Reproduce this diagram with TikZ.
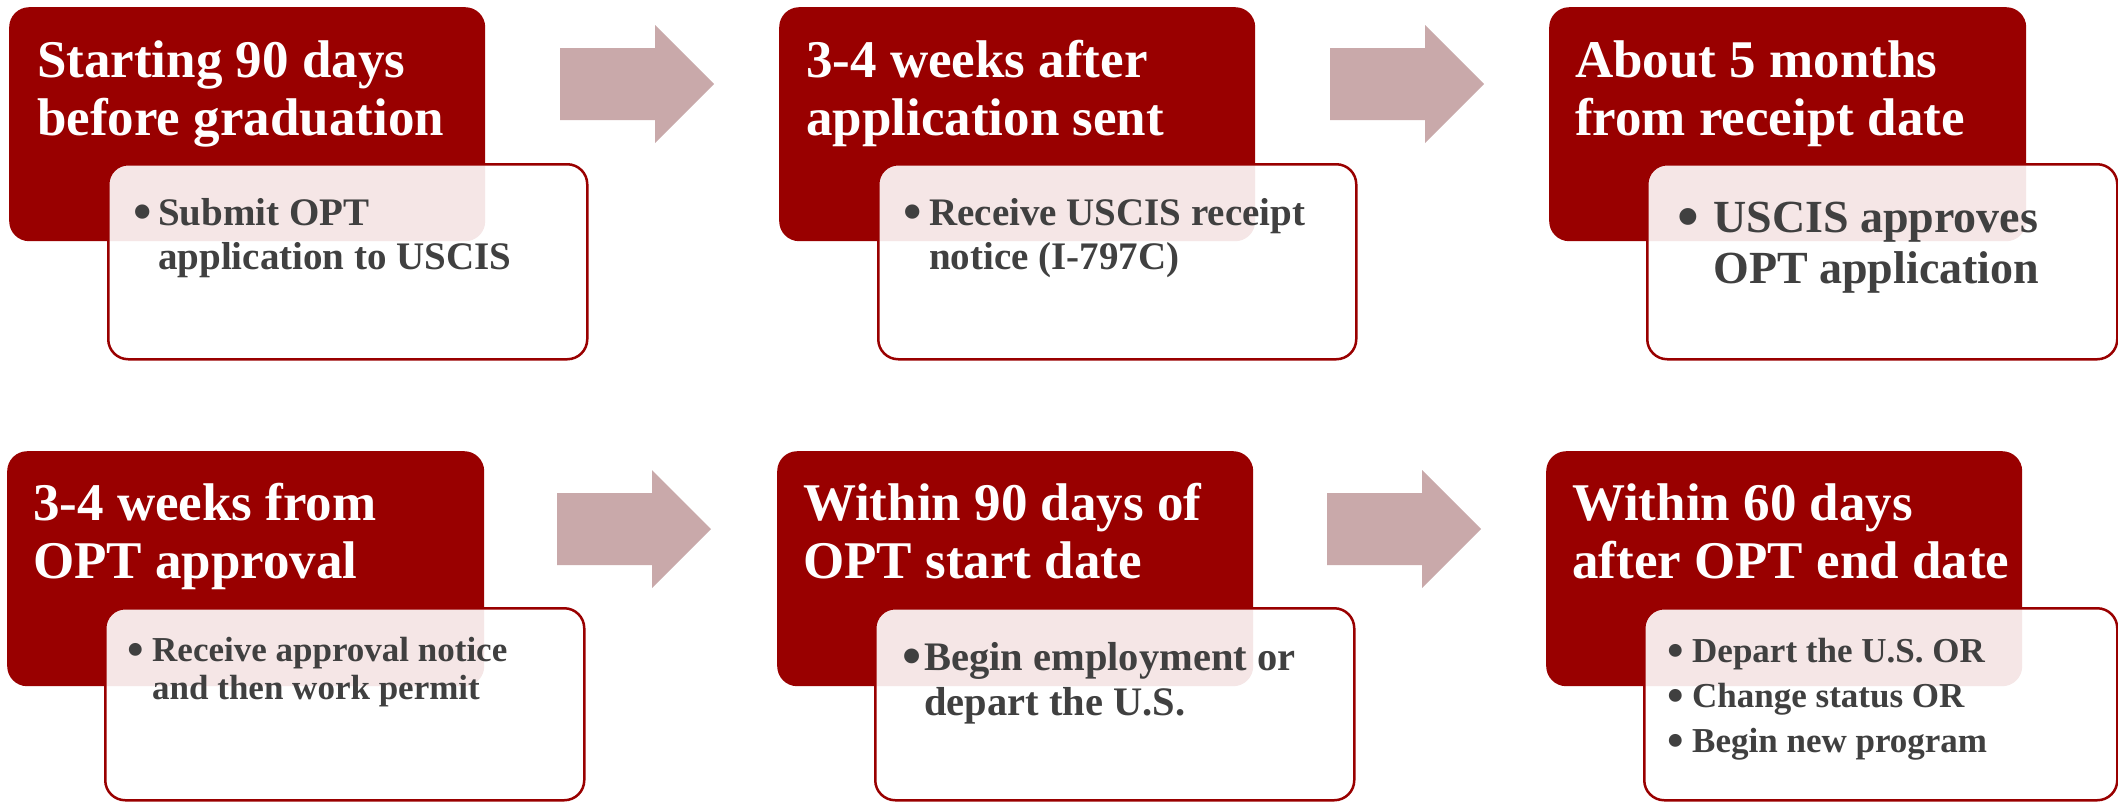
\documentclass[tikz,border=0pt]{standalone}
\usepackage{fontspec}
\setmainfont{Liberation Serif}
\definecolor{oxred}{RGB}{153,0,0}
\definecolor{arrowpink}{RGB}{201,169,170}
\definecolor{bodygray}{RGB}{64,64,64}
\newcommand{\bulmark}[1]{\llap{\raisebox{-0.12em}{\scalebox{1.35}{•}}\hspace{#1}}}
\begin{document}
\begin{tikzpicture}[x=1pt,y=-1pt,
  darkbox/.style={fill=oxred, rounded corners=20pt, inner sep=0pt, anchor=north west},
  lightbox/.style={fill=white, fill opacity=0.9, draw=oxred, line width=2.5pt, rounded corners=20pt, inner sep=0pt, anchor=north west},
  arrowfill/.style={fill=arrowpink},
  ttl/.style={text=white, inner sep=0pt, anchor=base west, font=\fontsize{53}{58}\selectfont\bfseries},
  body/.style={text=bodygray, inner sep=0pt, anchor=base west},
  bA/.style={body, font=\fontsize{39}{44}\selectfont\bfseries},
  bB/.style={body, font=\fontsize{46}{51}\selectfont\bfseries},
  bC/.style={body, font=\fontsize{35}{40}\selectfont\bfseries},
  bD/.style={body, font=\fontsize{40.5}{45}\selectfont\bfseries}
]
\useasboundingbox (0,0) rectangle (2118,801);

% ---------- boxes ----------
\node[darkbox, minimum width=476pt, minimum height=234pt] (d1) at (9,7) {};
\node[lightbox, minimum width=479pt, minimum height=195pt] (w1) at (107,163) {};
\node[darkbox, minimum width=476pt, minimum height=234pt] (d2) at (779,7) {};
\node[lightbox, minimum width=478pt, minimum height=195pt] (w2) at (877,163) {};
\node[darkbox, minimum width=477pt, minimum height=234pt] (d3) at (1549,7) {};
\node[lightbox, minimum width=470pt, minimum height=195pt] (w3) at (1646,163) {};

\node[darkbox, minimum width=477pt, minimum height=235pt] (d4) at (7,451) {};
\node[lightbox, minimum width=479pt, minimum height=192pt] (w4) at (104,607) {};
\node[darkbox, minimum width=476pt, minimum height=235pt] (d5) at (777,451) {};
\node[lightbox, minimum width=479pt, minimum height=192pt] (w5) at (874,607) {};
\node[darkbox, minimum width=476pt, minimum height=235pt] (d6) at (1546,451) {};
\node[lightbox, minimum width=473pt, minimum height=192pt] (w6) at (1643,607) {};

% ---------- block arrows ----------
\coordinate (a1) at (560,84);
\coordinate (a2) at (1330,84);
\coordinate (a3) at (557,529);
\coordinate (a4) at (1327,529);
\foreach \a in {a1,a2,a3,a4}{
  \fill[arrowfill] (\a) ++(0,-36) -- ++(95,0) -- ++(0,-23) -- ++(59,59) -- ++(-59,59) -- ++(0,-23) -- ++(-95,0) -- cycle;
}

% ---------- titles ----------
\node[ttl] (t1a) at (37,77) {Starting 90 days};
\node[ttl] (t1b) at (37,135) {before graduation};
\node[ttl] (t2a) at (806,77) {3-4 weeks after};
\node[ttl] (t2b) at (806,135) {application sent};
\node[ttl] (t3a) at (1575,77) {About 5 months};
\node[ttl] (t3b) at (1575,135) {from receipt date};
\node[ttl] (t4a) at (33,520) {3-4 weeks from};
\node[ttl] (t4b) at (33,578) {OPT approval};
\node[ttl] (t5a) at (803,520) {Within 90 days of};
\node[ttl] (t5b) at (803,578) {OPT start date};
\node[ttl] (t6a) at (1572,520) {Within 60 days};
\node[ttl] (t6b) at (1572,578) {after OPT end date};

% ---------- bodies ----------
\node[bA] (b1a) at (158,225) {\bulmark{6pt}Submit OPT};
\node[bA] (b1b) at (158,269) {application to USCIS};
\node[bA] (b2a) at (929,225) {\bulmark{7pt}Receive USCIS receipt};
\node[bA] (b2b) at (929,269) {notice (I-797C)};
\node[bB] (b3a) at (1713,232) {\bulmark{14pt}USCIS approves};
\node[bB] (b3b) at (1713,283) {OPT application};
\node[bC] (b4a) at (152,661) {\bulmark{8pt}Receive approval notice};
\node[bC] (b4b) at (152,699) {and then work permit};
\node[bD] (b5a) at (924,670) {\bulmark{3pt}Begin employment or};
\node[bD] (b5b) at (924,715) {depart the U.S.};
\node[bC] (b6a) at (1692,662) {\bulmark{8pt}Depart the U.S. OR};
\node[bC] (b6b) at (1692,707) {\bulmark{8pt}Change status OR};
\node[bC] (b6c) at (1692,752) {\bulmark{8pt}Begin new program};
\end{tikzpicture}
\end{document}
